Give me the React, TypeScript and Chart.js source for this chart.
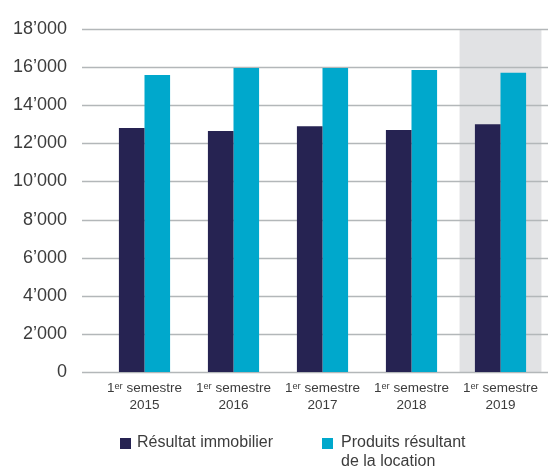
import React, { useEffect, useRef } from "react";
import { Chart, registerables } from "chart.js";

Chart.register(...registerables);

const categories: string[][] = [
  ["1ᵉʳ semestre", "2015"],
  ["1ᵉʳ semestre", "2016"],
  ["1ᵉʳ semestre", "2017"],
  ["1ᵉʳ semestre", "2018"],
  ["1ᵉʳ semestre", "2019"],
];
const resultatImmobilier = [12800, 12650, 12900, 12700, 13000];
const produitsLocation = [15580, 15950, 15950, 15850, 15700];
const seriesNames = ["Résultat immobilier", ["Produits résultant", "de la location"]];
const highlightIndex = 4;

const DARK = "#262352";
const CYAN = "#00a8cc";
const TEXT = "#3c3c3c";
const GRID = "#b3b7b9";
const FONT = "'Liberation Sans Narrow', 'Liberation Sans', Arial, sans-serif";

const decorPlugin = {
  id: "decor",
  beforeDatasetsDraw(chart: any) {
    const { ctx, chartArea, scales } = chart;
    const x = scales.x;
    const y = scales.y;
    const w = x.width / x.ticks.length;
    const cx = x.getPixelForValue(highlightIndex);
    ctx.save();
    ctx.fillStyle = "#e1e2e4";
    ctx.fillRect(cx - w * 0.46, chartArea.top, w * 0.92, chartArea.bottom - chartArea.top);
    ctx.strokeStyle = GRID;
    ctx.lineWidth = 1.3;
    y.ticks.forEach((t: any) => {
      const py = Math.round(y.getPixelForValue(t.value)) + 0.5;
      ctx.beginPath();
      ctx.moveTo(82, py);
      ctx.lineTo(chart.width, py);
      ctx.stroke();
    });
    ctx.restore();
  },
  afterDraw(chart: any) {
    const { ctx } = chart;
    ctx.save();
    ctx.font = `16px ${FONT}`;
    ctx.textBaseline = "middle";
    ctx.textAlign = "left";
    const items = [
      { color: DARK, box: 120, text: 137, label: seriesNames[0] },
      { color: CYAN, box: 322, text: 341, label: seriesNames[1] },
    ];
    items.forEach((it) => {
      ctx.fillStyle = it.color;
      ctx.fillRect(it.box, 438, 11, 11);
      ctx.fillStyle = TEXT;
      const lines = Array.isArray(it.label) ? it.label : [it.label];
      lines.forEach((l: string, i: number) => ctx.fillText(l, it.text, 443 + i * 19));
    });
    ctx.restore();
  },
};

export default function App() {
  const ref = useRef<HTMLCanvasElement>(null);
  useEffect(() => {
    const chart = new Chart(ref.current!, {
      type: "bar",
      data: {
        labels: categories,
        datasets: [
          { label: "Résultat immobilier", data: resultatImmobilier, backgroundColor: DARK },
          { label: "Produits résultant de la location", data: produitsLocation, backgroundColor: CYAN },
        ],
      },
      options: {
        animation: false,
        responsive: false,
        layout: { padding: { top: 29, right: 3, left: 0, bottom: 0 } },
        datasets: { bar: { categoryPercentage: 0.575, barPercentage: 1 } },
        plugins: { legend: { display: false }, tooltip: { enabled: false } },
        scales: {
          x: {
            grid: { display: false, drawTicks: false },
            border: { display: false },
            ticks: { color: TEXT, font: { family: FONT, size: 13.5, lineHeight: 1.25 }, padding: 8, maxRotation: 0, autoSkip: false },
            afterFit: (s: any) => { s.height = 96; },
          },
          y: {
            min: 0,
            max: 18000,
            grid: { display: false, drawTicks: false },
            border: { display: false },
            ticks: {
              stepSize: 2000,
              color: TEXT,
              font: { family: FONT, size: 18 },
              padding: 33,
              callback: (v: any) => (v === 0 ? "0" : `${v / 1000}’000`),
            },
            afterFit: (s: any) => { s.width = 100; s.paddingTop = 0; s.paddingBottom = 0; },
          },
        },
      },
      plugins: [decorPlugin],
    });
    return () => chart.destroy();
  }, []);
  return (
    <div style={{ position: "fixed", left: 0, top: 0, width: 548, height: 468, background: "#fff" }}>
      <canvas ref={ref} width={548} height={468} style={{ width: 548, height: 468 }} />
    </div>
  );
}
